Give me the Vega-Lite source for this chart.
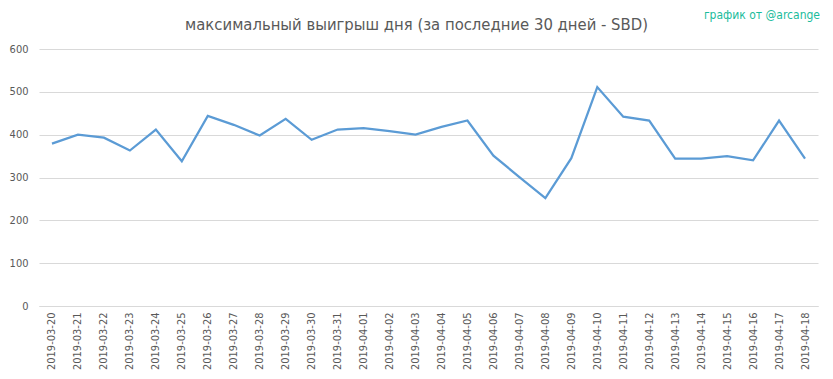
{
  "$schema": "https://vega.github.io/schema/vega-lite/v6.json",
  "autosize": "none",
  "width": 779,
  "height": 257,
  "padding": {"left": 39, "top": 49, "right": 15, "bottom": 73},
  "background": "white",
  "title": {
    "text": "максимальный выигрыш дня (за последние 30 дней - SBD)",
    "fontSize": 16.5,
    "font": "Liberation Sans Narrow, DejaVu Sans Condensed, sans-serif",
    "fontWeight": "normal",
    "color": "#595959",
    "anchor": "middle",
    "frame": "group",
    "baseline": "bottom",
    "dx": -12,
    "dy": 41,
    "offset": 0
  },
  "config": {
    "view": {"stroke": null},
    "axis": {
      "labelColor": "#595959",
      "labelFont": "Liberation Sans Narrow, DejaVu Sans Condensed, sans-serif",
      "labelFontSize": 11,
      "gridColor": "#d9d9d9",
      "domainColor": "#d9d9d9",
      "ticks": false,
      "title": null
    }
  },
  "layer": [
    {
      "data": {
        "values": [
          {"date": "2019-03-20", "value": 379},
          {"date": "2019-03-21", "value": 400},
          {"date": "2019-03-22", "value": 393},
          {"date": "2019-03-23", "value": 363},
          {"date": "2019-03-24", "value": 412},
          {"date": "2019-03-25", "value": 338},
          {"date": "2019-03-26", "value": 444},
          {"date": "2019-03-27", "value": 423},
          {"date": "2019-03-28", "value": 398},
          {"date": "2019-03-29", "value": 437},
          {"date": "2019-03-30", "value": 388},
          {"date": "2019-03-31", "value": 412},
          {"date": "2019-04-01", "value": 415},
          {"date": "2019-04-02", "value": 408},
          {"date": "2019-04-03", "value": 400},
          {"date": "2019-04-04", "value": 418},
          {"date": "2019-04-05", "value": 433},
          {"date": "2019-04-06", "value": 351},
          {"date": "2019-04-07", "value": 301},
          {"date": "2019-04-08", "value": 252},
          {"date": "2019-04-09", "value": 345},
          {"date": "2019-04-10", "value": 511},
          {"date": "2019-04-11", "value": 442},
          {"date": "2019-04-12", "value": 433},
          {"date": "2019-04-13", "value": 344},
          {"date": "2019-04-14", "value": 344},
          {"date": "2019-04-15", "value": 350},
          {"date": "2019-04-16", "value": 340},
          {"date": "2019-04-17", "value": 433},
          {"date": "2019-04-18", "value": 344}
        ]
      },
      "mark": {"type": "line", "color": "#5b9bd5", "strokeWidth": 2.25},
      "encoding": {
        "x": {
          "field": "date",
          "type": "ordinal",
          "sort": null,
          "scale": {"type": "point", "padding": 0.5},
          "axis": {"labelAngle": -90, "labelPadding": 6, "grid": false, "domain": true}
        },
        "y": {
          "field": "value",
          "type": "quantitative",
          "scale": {"domain": [0, 600]},
          "axis": {"values": [0, 100, 200, 300, 400, 500, 600], "domain": false, "labelPadding": 11, "grid": true}
        }
      }
    },
    {
      "data": {"values": [{"label": "график от @arcange"}]},
      "mark": {"type": "text", "align": "right", "baseline": "middle", "dx": 15, "color": "#1abc9c", "fontSize": 12, "font": "Liberation Sans Narrow, DejaVu Sans Condensed, sans-serif"},
      "encoding": {
        "x": {"datum": "2019-04-18", "type": "ordinal"},
        "y": {"datum": 680, "type": "quantitative"},
        "text": {"field": "label"}
      }
    }
  ]
}
